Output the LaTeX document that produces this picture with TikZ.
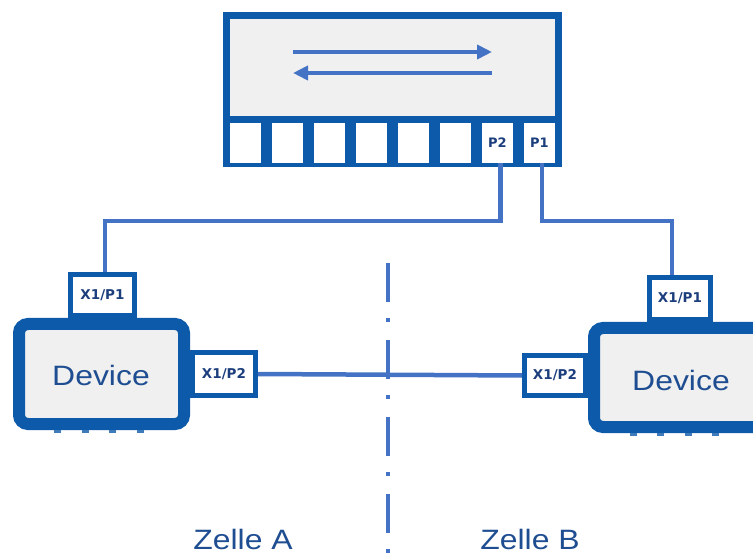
\documentclass[tikz,border=0pt]{standalone}
\usepackage{fontspec}
\setmainfont{Liberation Sans}
\newfontfamily\lblfont{DejaVu Sans}
\usetikzlibrary{arrows.meta}
\definecolor{bordblue}{RGB}{14,90,170}
\definecolor{lineblue}{RGB}{68,114,196}
\definecolor{devgrey}{RGB}{240,240,240}
\definecolor{txtblue}{RGB}{30,78,145}
\definecolor{lbltxt}{RGB}{28,62,125}
\tikzset{
  swport/.style={rectangle, fill=white, inner sep=0pt, minimum width=31pt, minimum height=40pt,
    font=\lblfont\bfseries\fontsize{13}{13}\selectfont, text=lbltxt},
  portbox/.style={rectangle, draw=bordblue, fill=white, line width=5pt, inner sep=0pt,
    font=\lblfont\bfseries\fontsize{13.5}{14}\selectfont, text=lbltxt},
  devbox/.style={rectangle, rounded corners=9pt, draw=bordblue, fill=devgrey, line width=12pt, inner sep=0pt},
  devtext/.style={font=\fontsize{28}{30}\selectfont, text=txtblue, anchor=base, inner sep=0pt},
  conn/.style={draw=lineblue, line width=4.5pt},
  nub/.style={fill=bordblue!80}
}
\begin{document}
\begin{tikzpicture}[x=1pt,y=-1pt]
\useasboundingbox (0,0) rectangle (753,556);
% devices
\node[devbox, minimum width=165pt, minimum height=100pt] (ldev) at (101.5,374) {};
\node[devbox, minimum width=170pt, minimum height=99pt] (rdev) at (679,377.5) {};
\foreach \x in {57,85,112,140} \fill[nub] (\x-3.5,430) rectangle (\x+3.5,432.5);
\foreach \x in {633,660,688,715} \fill[nub] (\x-3.5,433) rectangle (\x+3.5,435.5);
\node[devtext] (ltxt) at (101,385) {\scalebox{1.14}[1]{Device}};
\node[devtext] (rtxt) at (681,390) {\scalebox{1.14}[1]{Device}};
% port boxes
\node[portbox, minimum width=64pt, minimum height=41pt] (lp1) at (102.5,295) {X1/P1};
\node[portbox, minimum width=63pt, minimum height=43pt] (lp2) at (224,374) {X1/P2};
\node[portbox, minimum width=61pt, minimum height=42pt] (rp1) at (680,298.5) {X1/P1};
\node[portbox, minimum width=61pt, minimum height=40pt] (rp2) at (555,375.5) {X1/P2};
% cell divider
\coordinate (divtop) at (388,263);
\coordinate (divbot) at (388,560);
\draw[lineblue, line width=3.5pt, dash pattern=on 39pt off 16pt on 4pt off 18pt] (divtop) -- (divbot);
% switch
\fill[bordblue] (223,12) rectangle (562,167);
\fill[devgrey] (230,19) rectangle (555,116);
\foreach \i in {1,...,8} {
  \node[swport] (p\i) at ({245.5+42*(\i-1)},143) {};
}
\node[swport, fill=none] at (p7) {P2};
\node[swport, fill=none] at (p8) {P1};
\coordinate (a1s) at (293,52);
\coordinate (a1e) at (492,52);
\coordinate (a2s) at (492,73);
\coordinate (a2e) at (293,73);
\draw[lineblue, line width=4pt, -{Triangle[length=15pt,width=14pt]}] (a1s) -- (a1e);
\draw[lineblue, line width=4pt, -{Triangle[length=15pt,width=14pt]}] (a2s) -- (a2e);
% connectors
\coordinate (hl) at (0,221);
\draw[conn] ([xshift=3pt]p7.south) -- ([xshift=3pt]p7.south |- hl) -- ([xshift=2.5pt]lp1.north |- hl) -- ([xshift=2.5pt]lp1.north);
\draw[conn] ([xshift=2.5pt]p8.south) -- ([xshift=2.5pt]p8.south |- hl) -- ([xshift=-8pt]rp1.north |- hl) -- ([xshift=-8pt]rp1.north);
\draw[conn] (lp2.east) -- (rp2.west);
% cell labels
\node[devtext] (za) at (243,549) {\scalebox{1.14}[1]{Zelle A}};
\node[devtext] (zb) at (530,549) {\scalebox{1.14}[1]{Zelle B}};
\end{tikzpicture}
\end{document}
